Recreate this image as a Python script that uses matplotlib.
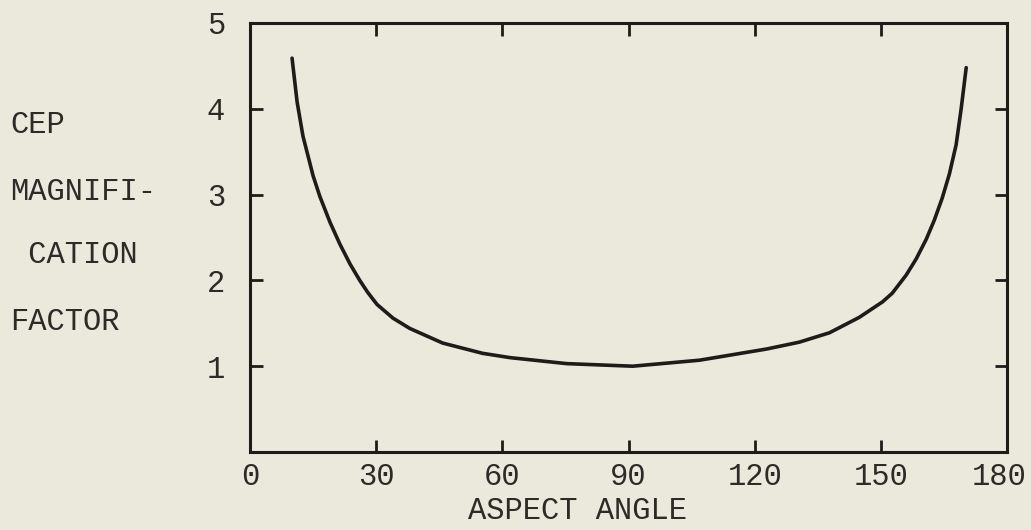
import matplotlib
matplotlib.use("Agg")
import matplotlib.pyplot as plt
import matplotlib.transforms as mtransforms

# Data
angle = [10.0, 11.2, 12.6, 15.0, 16.6, 19.0, 21.4, 23.8, 26.1, 28.0, 30.2, 34.0,
         38.0, 45.8, 55.3, 61.8, 75.3, 91.0, 106.9, 122.8, 130.6, 137.8, 144.9,
         150.4, 152.7, 156.0, 158.4, 160.8, 162.7, 164.6, 166.3, 167.9, 169.1, 170.3]
factor = [4.59, 4.08, 3.68, 3.22, 2.98, 2.68, 2.42, 2.19, 2.00, 1.86, 1.72, 1.56,
          1.44, 1.27, 1.15, 1.10, 1.03, 1.00, 1.07, 1.20, 1.28, 1.39, 1.57,
          1.75, 1.85, 2.06, 2.25, 2.48, 2.70, 2.96, 3.24, 3.58, 4.00, 4.48]
xticks = [0, 30, 60, 90, 120, 150, 180]
yticks = [1, 2, 3, 4, 5]
ylabel_lines = ["CEP", "MAGNIFI-", " CATION", "FACTOR"]
xlabel = "ASPECT ANGLE"

bg = "#ebe8dc"
ink = "#1f1b19"
txt_col = "#2e2a27"
font = "Liberation Mono"
fs = 22

W, H = 1031, 530
fig = plt.figure(figsize=(W / 100, H / 100), dpi=100, facecolor=bg)
ax = fig.add_axes([250 / W, 1 - 452 / H, (1007 - 250) / W, (452 - 23) / H])
ax.set_facecolor(bg)

ax.plot(angle, factor, color=ink, lw=2.6, solid_capstyle="round",
        solid_joinstyle="round")

ax.set_xlim(0, 180)
ax.set_ylim(0, 5)
ax.set_xticks(xticks)
ax.set_yticks(yticks)
ax.set_xticklabels([str(v) for v in xticks], fontfamily=font, fontsize=fs, color=txt_col)
ax.set_yticklabels([str(v) for v in yticks], fontfamily=font, fontsize=fs, color=txt_col)
ax.tick_params(axis="both", direction="in", length=9, width=2.0, color=ink,
               top=True, right=True)
ax.tick_params(axis="x", pad=7)
ax.tick_params(axis="y", pad=18)
for t in ax.xaxis.get_major_ticks():
    if t.get_loc() in (0, 180):
        t.tick1line.set_visible(False)
        t.tick2line.set_visible(False)
for t in ax.yaxis.get_major_ticks():
    if t.get_loc() == 5:
        t.tick1line.set_visible(False)
        t.tick2line.set_visible(False)

# nudge the last x label inward so it stays inside the figure
lab = ax.get_xticklabels()[-1]
lab.set_transform(lab.get_transform() +
                  mtransforms.ScaledTranslation(-8 / 100, 0, fig.dpi_scale_trans))

for s in ax.spines.values():
    s.set_color(ink)
    s.set_linewidth(2.2)

ys = [125, 192, 255, 322]
for txt, y in zip(ylabel_lines, ys):
    fig.text(10 / W, 1 - y / H, txt, fontfamily=font, fontsize=fs, color=txt_col,
             ha="left", va="center")

fig.text(578 / W, 1 - 511 / H, xlabel, fontfamily=font, fontsize=fs, color=txt_col,
         ha="center", va="center")

fig.savefig("out.png", dpi=100, facecolor=bg)
